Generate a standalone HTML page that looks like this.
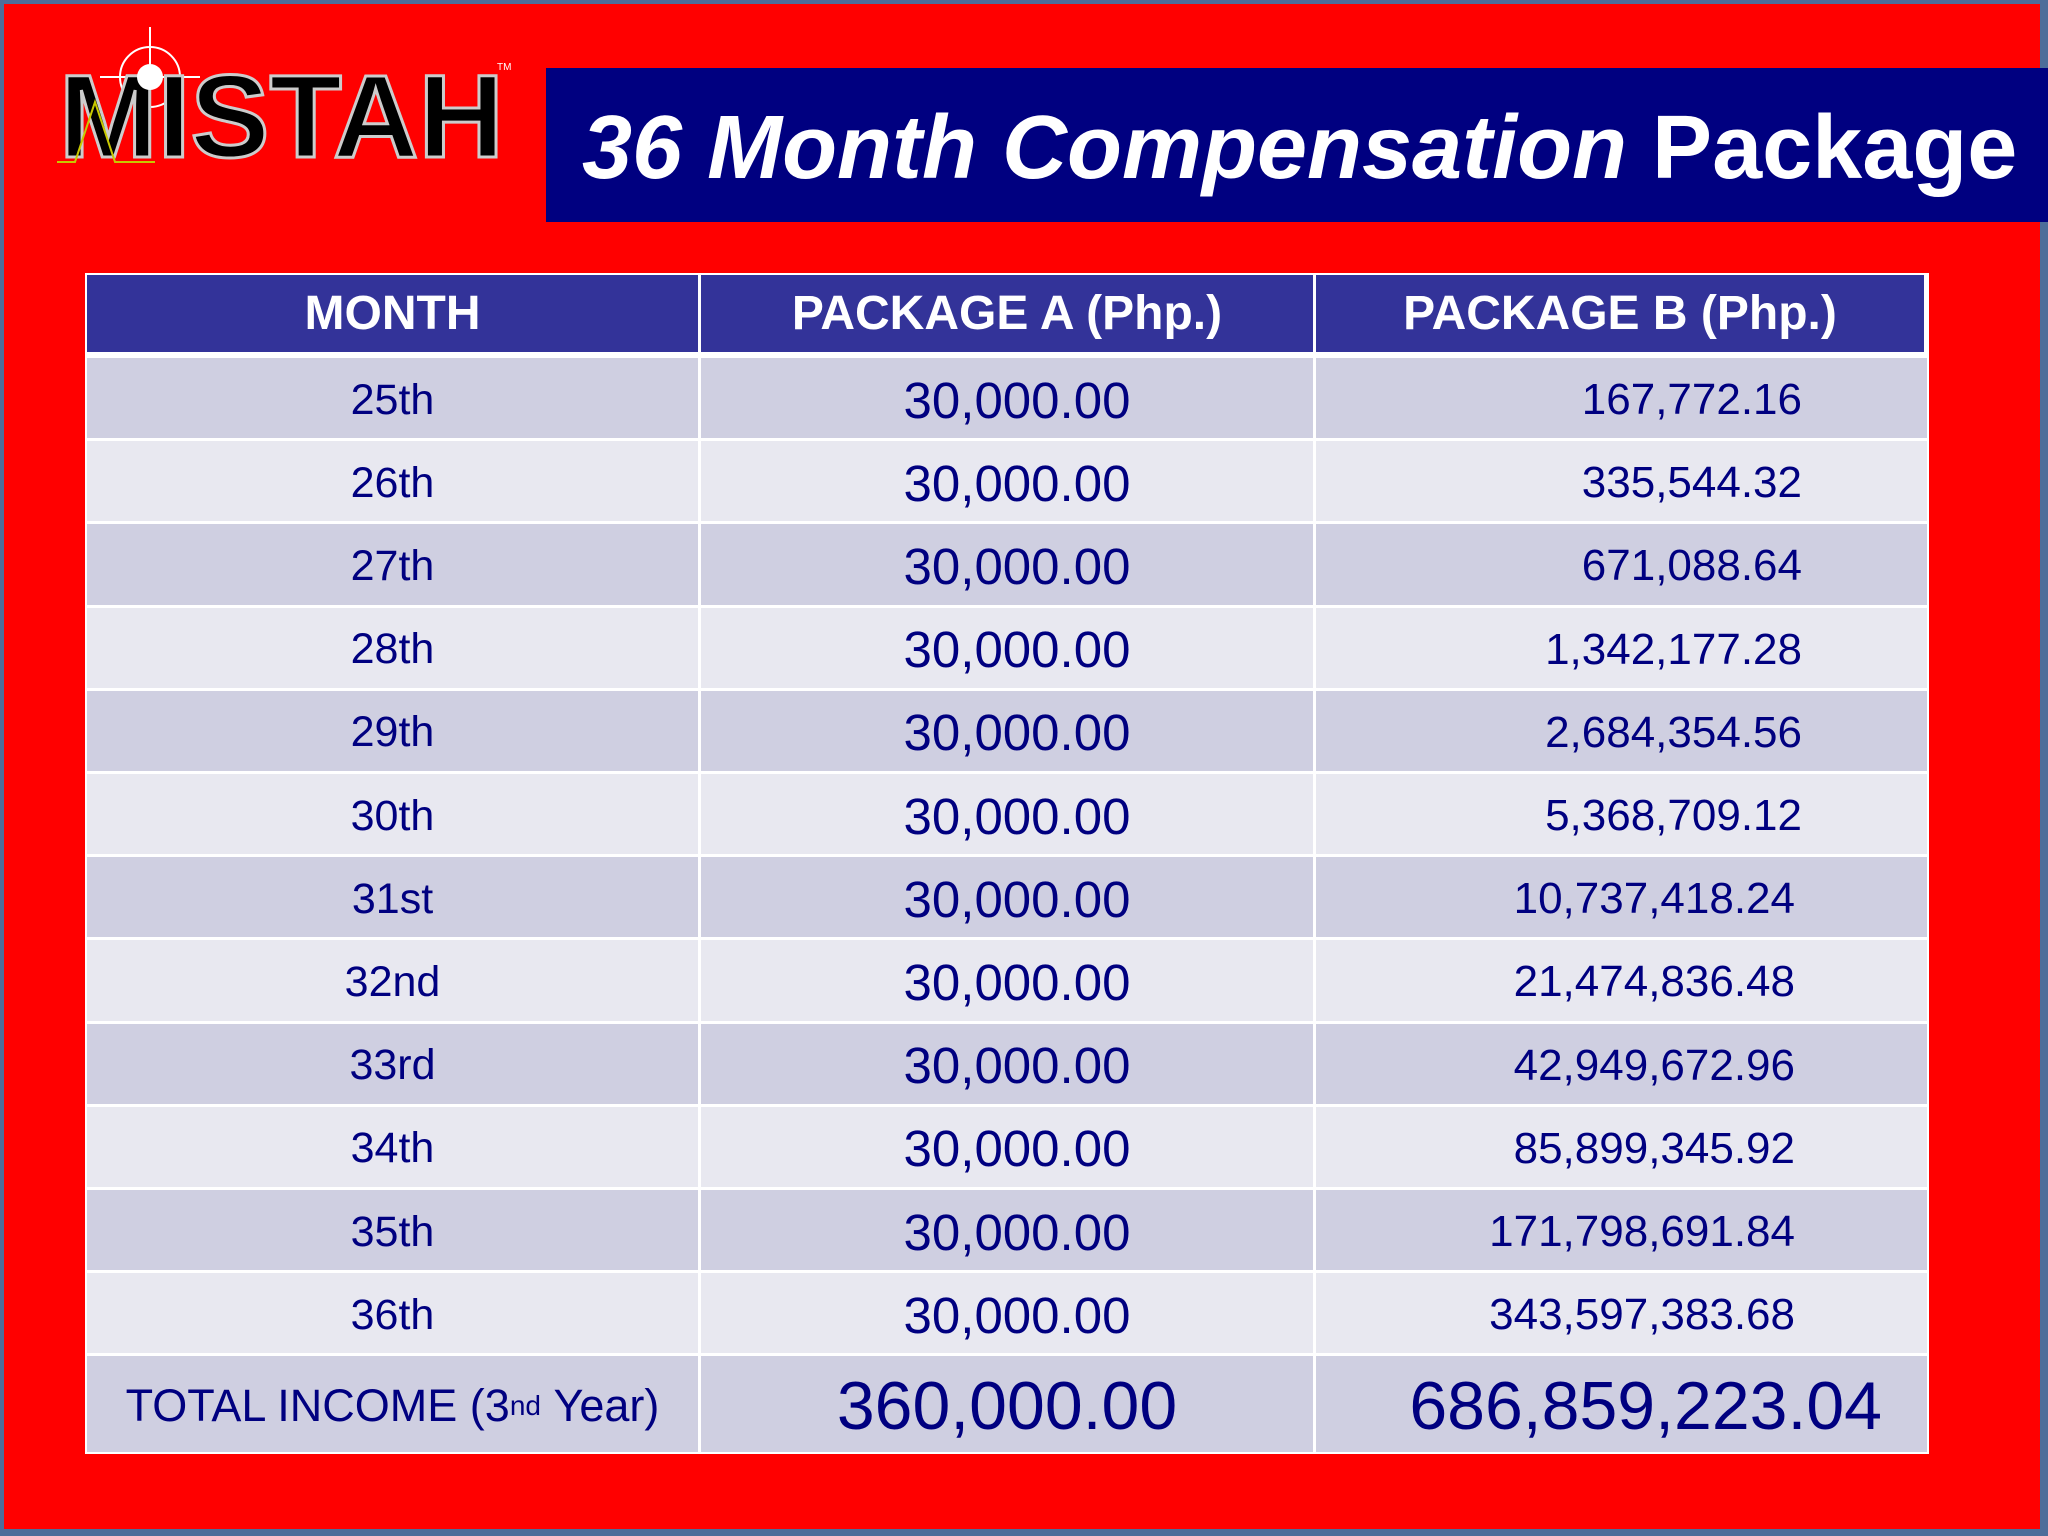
<!DOCTYPE html>
<html><head><meta charset="utf-8"><style>
*{margin:0;padding:0;box-sizing:border-box}
body{width:2048px;height:1536px;background:#4d6d9a;position:relative;overflow:hidden;font-family:"Liberation Sans",sans-serif}
#slide{position:absolute;left:4px;top:4px;width:2036px;height:1525px;background:#ff0000}
#title-box{position:absolute;left:546px;top:68px;width:1502px;height:154px;background:#000080;color:#fff;font-weight:bold;font-size:90px;white-space:nowrap;line-height:160px;padding-left:36px}
#title-box i{font-style:italic}
#tbl{position:absolute;left:85px;top:273px;width:1844px;height:1181px;background:#fff}
.cell{position:absolute;color:#000080;white-space:nowrap;display:flex;align-items:center}
.hdr{background:#333399;color:#fff;font-weight:bold;font-size:48px;justify-content:center}
</style></head><body>
<div id="slide"></div>
<svg style="position:absolute;left:55px;top:22px" width="460" height="150">
 <circle cx="95" cy="55" r="30" fill="none" stroke="#fff" stroke-width="2"/>
 <line x1="95" y1="5" x2="95" y2="105" stroke="#fff" stroke-width="2"/>
 <line x1="45" y1="55" x2="145" y2="55" stroke="#fff" stroke-width="2"/>
 <text x="4" y="135" font-family="Liberation Sans" font-weight="bold" font-size="118" fill="#000" stroke="#ccc" stroke-width="3" textLength="445" lengthAdjust="spacingAndGlyphs">MISTAH</text>
 <circle cx="95" cy="55" r="13" fill="#fff"/>
 <polyline points="2,140 20,140 40,80 60,140 100,140" fill="none" stroke="#c8c800" stroke-width="2"/>
 <text x="442" y="48" font-size="10" fill="#fff" font-family="Liberation Sans">TM</text>
</svg>
<div id="title-box"><i>36 Month Compensation</i> Package</div>
<div id="tbl"></div>
<script>
const months=["25th","26th","27th","28th","29th","30th","31st","32nd","33rd","34th","35th","36th"];
const packageA=["30,000.00","30,000.00","30,000.00","30,000.00","30,000.00","30,000.00","30,000.00","30,000.00","30,000.00","30,000.00","30,000.00","30,000.00"];
const packageB=["167,772.16","335,544.32","671,088.64","1,342,177.28","2,684,354.56","5,368,709.12","10,737,418.24","21,474,836.48","42,949,672.96","85,899,345.92","171,798,691.84","343,597,383.68"];
const headers=["MONTH","PACKAGE A (Php.)","PACKAGE B (Php.)"];
const totalA="360,000.00";
const totalB="686,859,223.04";
const tbl=document.getElementById('tbl');
const colX=[2,616,1231,1842];
const headH=81,rowTop=85,rowH=83.2;
function cell(x,y,w,h,html,cls,style){
 const d=document.createElement('div');
 d.className='cell '+(cls||'');
 d.style.cssText=`left:${x}px;top:${y}px;width:${w}px;height:${h}px;`+(style||'');
 d.innerHTML=html;tbl.appendChild(d);return d;}
headers.forEach((h,i)=>{
 const d=cell(colX[i],2,colX[i+1]-colX[i]-3,headH-4,h,'hdr');
 
 
});
months.forEach((m,r)=>{
 const y=rowTop+r*rowH, h=rowH-3;
 const bg=r%2==0?'#cfcfe1':'#e8e8f0';
 const a=cell(colX[0],y,colX[1]-colX[0]-3,h,m,'',`background:${bg};font-size:43px;justify-content:center;padding-top:4px;`);
 
 
 const b=cell(colX[1],y,colX[2]-colX[1]-3,h,packageA[r],'',`background:${bg};font-size:51px;justify-content:center;padding-left:20px;padding-top:4px;`);
 
 
 const c=cell(colX[2],y,colX[3]-colX[2],h,packageB[r],'',`background:${bg};font-size:44px;justify-content:flex-end;padding-top:4px;padding-right:${packageB[r].length>12?132:125}px;`);
 
 
});
const ty=rowTop+12*rowH, th=1179-ty;
const t1=cell(colX[0],ty,colX[1]-colX[0]-3,th,'TOTAL INCOME (3<sup style="font-size:28px;vertical-align:16px">nd</sup>&nbsp;Year)','','background:#cfcfe1;font-size:45px;justify-content:center;padding-top:4px;');


const t2=cell(colX[1],ty,colX[2]-colX[1]-3,th,totalA,'','background:#cfcfe1;font-size:68px;justify-content:center;padding-top:4px;');


const t3=cell(colX[2],ty,colX[3]-colX[2],th,totalB,'','background:#cfcfe1;font-size:68px;justify-content:flex-end;padding-right:45px;padding-top:4px;');


</script>
</body></html>
